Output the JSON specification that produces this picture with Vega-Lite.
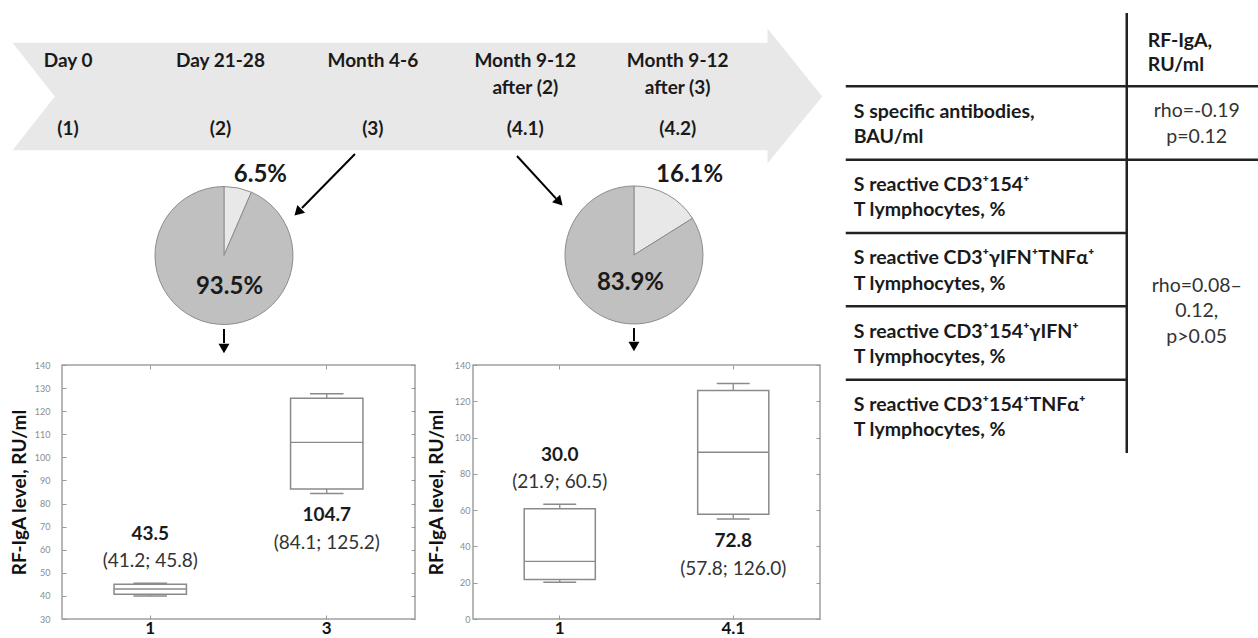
{
  "$schema": "https://vega.github.io/schema/vega-lite/v6.json",
  "autosize": {"type": "pad"},
  "padding": {"left": 9, "top": 11, "right": 0, "bottom": 0},
  "background": "white",
  "config": {
    "view": {"stroke": null},
    "font": "Lato",
    "text": {"font": "Lato"},
    "axis": {"labelFont": "Lato", "titleFont": "Lato", "grid": false}
  },
  "datasets": {
    "banner": [
      {"i": 0, "u": 0, "v": 0},
      {"i": 1, "u": 93.3, "v": 0},
      {"i": 2, "u": 93.3, "v": -13},
      {"i": 3, "u": 100, "v": 50},
      {"i": 4, "u": 93.3, "v": 112},
      {"i": 5, "u": 93.3, "v": 100},
      {"i": 6, "u": 0, "v": 100},
      {"i": 7, "u": 5.2, "v": 50},
      {"i": 8, "u": 0, "v": 0}
    ],
    "stages": [
      {"stage": "Day 0", "code": "(1)"},
      {"stage": "Day 21-28", "code": "(2)"},
      {"stage": "Month 4-6", "code": "(3)"},
      {"stage": "Month 9-12\nafter (2)", "code": "(4.1)"},
      {"stage": "Month 9-12\nafter (3)", "code": "(4.2)"}
    ],
    "pieA": [
      {"slice": "RF-IgA positive", "share": 6.5, "label": "6.5%"},
      {"slice": "RF-IgA negative", "share": 93.5, "label": "93.5%"}
    ],
    "pieB": [
      {"slice": "RF-IgA positive", "share": 16.1, "label": "16.1%"},
      {"slice": "RF-IgA negative", "share": 83.9, "label": "83.9%"}
    ],
    "arrows": [
      {"from": "(3)", "to": "pie A", "u0": 42.27, "v0": 103.7, "u1": 35.72, "v1": 154.2},
      {"from": "(4.1)", "to": "pie B", "u0": 62.3, "v0": 105.6, "u1": 67.14, "v1": 145.4},
      {"from": "pie A", "to": "box A", "u0": 26.08, "v0": 267.3, "u1": 26.08, "v1": 280.4},
      {"from": "pie B", "to": "box B", "u0": 76.76, "v0": 266.4, "u1": 76.76, "v1": 278.5}
    ],
    "heads": [
      {"to": "pie A", "u": 35.35, "v": 157.0, "angle": 225},
      {"to": "pie B", "u": 67.4, "v": 147.5, "angle": 137},
      {"to": "box A", "u": 26.08, "v": 284.1, "angle": 180},
      {"to": "box B", "u": 76.76, "v": 282.2, "angle": 180}
    ],
    "boxA": [
      {"timepoint": "1", "lo": 40.0, "q1": 40.7, "med": 43.0, "q3": 45.0, "hi": 45.5, "med_txt": "43.5", "iqr_txt": "(41.2; 45.8)"},
      {"timepoint": "3", "lo": 84.3, "q1": 86.3, "med": 106.5, "q3": 125.6, "hi": 127.6, "med_txt": "104.7", "iqr_txt": "(84.1; 125.2)"}
    ],
    "boxB": [
      {"timepoint": "1", "lo": 20.3, "q1": 21.8, "med": 31.8, "q3": 60.8, "hi": 63.3, "med_txt": "30.0", "iqr_txt": "(21.9; 60.5)"},
      {"timepoint": "4.1", "lo": 55.1, "q1": 57.8, "med": 91.9, "q3": 125.9, "hi": 129.8, "med_txt": "72.8", "iqr_txt": "(57.8; 126.0)"}
    ],
    "params": [
      {"row": "r1", "col": "p", "param": "S specific antibodies,\nBAU/ml"},
      {"row": "r2", "col": "p", "param": "S reactive  CD3⁺154⁺\nT lymphocytes, %"},
      {"row": "r3", "col": "p", "param": "S reactive CD3⁺γIFN⁺TNFα⁺\nT lymphocytes, %"},
      {"row": "r4", "col": "p", "param": "S reactive CD3⁺154⁺γIFN⁺\nT lymphocytes, %"},
      {"row": "r5", "col": "p", "param": "S reactive CD3⁺154⁺TNFα⁺\nT lymphocytes, %"}
    ],
    "header": [
      {"row": "h", "col": "RF-IgA", "head": "RF-IgA,\nRU/ml"}
    ],
    "corr": [
      {"first": "r1", "anchor": "r1", "col": "RF-IgA", "merged": false, "text": "rho=-0.19\np=0.12"},
      {"first": "r2", "anchor": "r4", "col": "RF-IgA", "merged": true, "text": "rho=0.08–\n0.12,\np>0.05"}
    ]
  },
  "spacing": 8.75,
  "hconcat": [
    {
      "spacing": 4,
      "vconcat": [
        {
          "width": 773,
          "height": 341,
          "resolve": {"scale": {"x": "independent"}},
          "layer": [
            {
              "data": {"name": "banner"},
              "mark": {"type": "line", "fill": "#e8e8e8", "stroke": "#e8e8e8", "strokeWidth": 0.5},
              "encoding": {
                "x": {"field": "u", "type": "quantitative", "scale": {"domain": [6.057, 101.61], "nice": false, "zero": false}, "axis": null},
                "y": {"field": "v", "type": "quantitative", "scale": {"domain": [-28.04, 290.65], "reverse": true, "nice": false, "zero": false}, "axis": null},
                "order": {"field": "i", "type": "quantitative"}
              }
            },
            {
              "data": {"name": "stages"},
              "mark": {"type": "text", "baseline": "top", "fontSize": 19, "fontWeight": "bold", "lineBreak": "\n", "lineHeight": 27, "color": "#1a1a1a"},
              "encoding": {
                "x": {"field": "code", "type": "nominal", "sort": null, "scale": {"type": "point", "padding": 0.536, "align": 0.037}, "axis": null},
                "y": {"datum": 8.7, "type": "quantitative", "scale": {"domain": [-28.04, 290.65], "reverse": true, "nice": false, "zero": false}, "axis": null},
                "text": {"field": "stage", "type": "nominal"}
              }
            },
            {
              "data": {"name": "stages"},
              "mark": {"type": "text", "baseline": "middle", "fontSize": 19, "fontWeight": "bold", "color": "#1a1a1a"},
              "encoding": {
                "x": {"field": "code", "type": "nominal", "sort": null, "scale": {"type": "point", "padding": 0.536, "align": 0.037}, "axis": null},
                "y": {"datum": 80, "type": "quantitative", "scale": {"domain": [-28.04, 290.65], "reverse": true, "nice": false, "zero": false}, "axis": null},
                "text": {"field": "code", "type": "nominal"}
              }
            },
            {
              "data": {"name": "pieA"},
              "mark": {"type": "arc", "outerRadius": 69, "stroke": "#8c8c8c", "strokeWidth": 1},
              "encoding": {
                "x": {"datum": 26.08, "type": "quantitative", "scale": {"domain": [6.057, 101.61], "nice": false, "zero": false}, "axis": null},
                "y": {"datum": 198.6, "type": "quantitative", "scale": {"domain": [-28.04, 290.65], "reverse": true, "nice": false, "zero": false}, "axis": null},
                "theta": {"field": "share", "type": "quantitative", "stack": true},
                "order": {"field": "share", "type": "quantitative"},
                "color": {"field": "slice", "type": "nominal", "scale": {"domain": ["RF-IgA positive", "RF-IgA negative"], "range": ["#e8e8e8", "#c0c0c0"]}, "legend": null}
              }
            },
            {
              "data": {"name": "pieA"},
              "mark": {"type": "text", "radius": 86, "dx": 19, "dy": 4, "fontSize": 24, "fontWeight": "bold", "color": "#1a1a1a"},
              "encoding": {
                "x": {"datum": 26.08, "type": "quantitative", "scale": {"domain": [6.057, 101.61], "nice": false, "zero": false}, "axis": null},
                "y": {"datum": 198.6, "type": "quantitative", "scale": {"domain": [-28.04, 290.65], "reverse": true, "nice": false, "zero": false}, "axis": null},
                "theta": {"field": "share", "type": "quantitative", "stack": true},
                "order": {"field": "share", "type": "quantitative"},
                "text": {"condition": {"test": "datum.share < 50", "field": "label", "type": "nominal"}, "value": ""}
              }
            },
            {
              "data": {"name": "pieA"},
              "mark": {"type": "text", "radius": 32, "dx": 12, "fontSize": 24, "fontWeight": "bold", "color": "#1a1a1a"},
              "encoding": {
                "x": {"datum": 26.08, "type": "quantitative", "scale": {"domain": [6.057, 101.61], "nice": false, "zero": false}, "axis": null},
                "y": {"datum": 198.6, "type": "quantitative", "scale": {"domain": [-28.04, 290.65], "reverse": true, "nice": false, "zero": false}, "axis": null},
                "theta": {"field": "share", "type": "quantitative", "stack": true},
                "order": {"field": "share", "type": "quantitative"},
                "text": {"condition": {"test": "datum.share >= 50", "field": "label", "type": "nominal"}, "value": ""}
              }
            },
            {
              "data": {"name": "pieB"},
              "mark": {"type": "arc", "outerRadius": 69, "stroke": "#8c8c8c", "strokeWidth": 1},
              "encoding": {
                "x": {"datum": 76.76, "type": "quantitative", "scale": {"domain": [6.057, 101.61], "nice": false, "zero": false}, "axis": null},
                "y": {"datum": 198.1, "type": "quantitative", "scale": {"domain": [-28.04, 290.65], "reverse": true, "nice": false, "zero": false}, "axis": null},
                "theta": {"field": "share", "type": "quantitative", "stack": true},
                "order": {"field": "share", "type": "quantitative"},
                "color": {"field": "slice", "type": "nominal", "scale": {"domain": ["RF-IgA positive", "RF-IgA negative"], "range": ["#e8e8e8", "#c0c0c0"]}, "legend": null}
              }
            },
            {
              "data": {"name": "pieB"},
              "mark": {"type": "text", "radius": 88, "dx": 13, "dy": -3, "fontSize": 24, "fontWeight": "bold", "color": "#1a1a1a"},
              "encoding": {
                "x": {"datum": 76.76, "type": "quantitative", "scale": {"domain": [6.057, 101.61], "nice": false, "zero": false}, "axis": null},
                "y": {"datum": 198.1, "type": "quantitative", "scale": {"domain": [-28.04, 290.65], "reverse": true, "nice": false, "zero": false}, "axis": null},
                "theta": {"field": "share", "type": "quantitative", "stack": true},
                "order": {"field": "share", "type": "quantitative"},
                "text": {"condition": {"test": "datum.share < 50", "field": "label", "type": "nominal"}, "value": ""}
              }
            },
            {
              "data": {"name": "pieB"},
              "mark": {"type": "text", "radius": 32, "dx": 12, "fontSize": 24, "fontWeight": "bold", "color": "#1a1a1a"},
              "encoding": {
                "x": {"datum": 76.76, "type": "quantitative", "scale": {"domain": [6.057, 101.61], "nice": false, "zero": false}, "axis": null},
                "y": {"datum": 198.1, "type": "quantitative", "scale": {"domain": [-28.04, 290.65], "reverse": true, "nice": false, "zero": false}, "axis": null},
                "theta": {"field": "share", "type": "quantitative", "stack": true},
                "order": {"field": "share", "type": "quantitative"},
                "text": {"condition": {"test": "datum.share >= 50", "field": "label", "type": "nominal"}, "value": ""}
              }
            },
            {
              "data": {"name": "arrows"},
              "mark": {"type": "rule", "color": "black", "strokeWidth": 2},
              "encoding": {
                "x": {"field": "u0", "type": "quantitative", "scale": {"domain": [6.057, 101.61], "nice": false, "zero": false}, "axis": null},
                "y": {"field": "v0", "type": "quantitative", "scale": {"domain": [-28.04, 290.65], "reverse": true, "nice": false, "zero": false}, "axis": null},
                "x2": {"field": "u1"},
                "y2": {"field": "v1"}
              }
            },
            {
              "data": {"name": "heads"},
              "mark": {"type": "point", "shape": "triangle", "filled": true, "color": "black", "opacity": 1, "size": 120},
              "encoding": {
                "x": {"field": "u", "type": "quantitative", "scale": {"domain": [6.057, 101.61], "nice": false, "zero": false}, "axis": null},
                "y": {"field": "v", "type": "quantitative", "scale": {"domain": [-28.04, 290.65], "reverse": true, "nice": false, "zero": false}, "axis": null},
                "angle": {"field": "angle", "type": "quantitative", "scale": null}
              }
            }
          ]
        },
        {
          "bounds": "flush",
          "spacing": 58,
          "hconcat": [
            {
              "width": 353,
              "height": 254,
              "data": {"name": "boxA"},
              "view": {"stroke": "#a0a0a0", "strokeWidth": 1.5},
              "resolve": {"axis": {"x": "independent", "y": "independent"}},
              "encoding": {
                "x": {"field": "timepoint", "type": "nominal", "sort": null, "scale": {"type": "band", "paddingInner": 0, "paddingOuter": 0}, "axis": null}
              },
              "layer": [
                {
                  "mark": {"type": "rule", "color": "#8a8a8a", "strokeWidth": 1.3},
                  "encoding": {
                    "x": {"field": "timepoint", "type": "nominal", "sort": null,
                      "axis": {"title": null, "labelAngle": 0, "domain": false, "tickSize": -4, "tickColor": "#999", "labelPadding": 5, "labelFontSize": 17, "labelFontWeight": "bold", "labelColor": "#111", "labelBaseline": "top"}},
                    "y": {"field": "lo", "type": "quantitative", "scale": {"domain": [30, 140], "nice": false, "zero": false},
                      "axis": {"title": "RF-IgA level, RU/ml", "values": [30, 40, 50, 60, 70, 80, 90, 100, 110, 120, 130, 140], "domain": false, "tickSize": -4, "tickColor": "#999", "labelPadding": 16, "labelFontSize": 9, "labelColor": "#8c8c8c", "titleFontSize": 19, "titleFontWeight": "bold", "titleColor": "#111", "titlePadding": 5}},
                    "y2": {"field": "hi"}
                  }
                },
                {
                  "mark": {"type": "rule", "opacity": 0},
                  "encoding": {
                    "x": {"field": "timepoint", "type": "nominal", "sort": null,
                      "axis": {"orient": "top", "title": null, "labels": false, "domain": false, "tickSize": -4, "tickColor": "#999"}},
                    "y": {"field": "lo", "type": "quantitative",
                      "axis": {"orient": "right", "title": null, "labels": false, "values": [30, 40, 50, 60, 70, 80, 90, 100, 110, 120, 130, 140], "domain": false, "tickSize": -4, "tickColor": "#999"}},
                    "y2": {"field": "hi"}
                  }
                },
                {
                  "mark": {"type": "bar", "fill": "white", "stroke": "#8a8a8a", "strokeWidth": 1.5, "width": {"band": 0.41}},
                  "encoding": {"y": {"field": "q1", "type": "quantitative", "axis": null}, "y2": {"field": "q3"}}
                },
                {
                  "mark": {"type": "bar", "fill": "white", "stroke": "#8a8a8a", "strokeWidth": 1.3, "width": {"band": 0.41}},
                  "encoding": {"y": {"field": "med", "type": "quantitative", "axis": null}, "y2": {"field": "med"}}
                },
                {
                  "mark": {"type": "bar", "fill": "white", "stroke": "#8a8a8a", "strokeWidth": 1.5, "width": {"band": 0.19}},
                  "encoding": {"y": {"field": "hi", "type": "quantitative", "axis": null}, "y2": {"field": "hi"}}
                },
                {
                  "mark": {"type": "bar", "fill": "white", "stroke": "#8a8a8a", "strokeWidth": 1.5, "width": {"band": 0.19}},
                  "encoding": {"y": {"field": "lo", "type": "quantitative", "axis": null}, "y2": {"field": "lo"}}
                },
                {
                  "transform": [{"filter": "datum.timepoint == '1'"}],
                  "mark": {"type": "text", "dy": -49.5, "fontSize": 19, "fontWeight": "bold", "color": "#1a1a1a"},
                  "encoding": {"y": {"field": "hi", "type": "quantitative", "axis": null}, "text": {"field": "med_txt", "type": "nominal"}}
                },
                {
                  "transform": [{"filter": "datum.timepoint == '1'"}],
                  "mark": {"type": "text", "dy": -22.5, "fontSize": 19, "color": "#333"},
                  "encoding": {"y": {"field": "hi", "type": "quantitative", "axis": null}, "text": {"field": "iqr_txt", "type": "nominal"}}
                },
                {
                  "transform": [{"filter": "datum.timepoint != '1'"}],
                  "mark": {"type": "text", "dy": 21.5, "fontSize": 19, "fontWeight": "bold", "color": "#1a1a1a"},
                  "encoding": {"y": {"field": "lo", "type": "quantitative", "axis": null}, "text": {"field": "med_txt", "type": "nominal"}}
                },
                {
                  "transform": [{"filter": "datum.timepoint != '1'"}],
                  "mark": {"type": "text", "dy": 49.5, "fontSize": 19, "color": "#333"},
                  "encoding": {"y": {"field": "lo", "type": "quantitative", "axis": null}, "text": {"field": "iqr_txt", "type": "nominal"}}
                }
              ]
            },
            {
              "width": 347,
              "height": 254,
              "data": {"name": "boxB"},
              "view": {"stroke": "#a0a0a0", "strokeWidth": 1.5},
              "resolve": {"axis": {"x": "independent", "y": "independent"}},
              "encoding": {
                "x": {"field": "timepoint", "type": "nominal", "sort": null, "scale": {"type": "band", "paddingInner": 0, "paddingOuter": 0}, "axis": null}
              },
              "layer": [
                {
                  "mark": {"type": "rule", "color": "#8a8a8a", "strokeWidth": 1.3},
                  "encoding": {
                    "x": {"field": "timepoint", "type": "nominal", "sort": null,
                      "axis": {"title": null, "labelAngle": 0, "domain": false, "tickSize": -4, "tickColor": "#999", "labelPadding": 5, "labelFontSize": 17, "labelFontWeight": "bold", "labelColor": "#111", "labelBaseline": "top"}},
                    "y": {"field": "lo", "type": "quantitative", "scale": {"domain": [0, 140], "nice": false, "zero": false},
                      "axis": {"title": "RF-IgA level, RU/ml", "values": [0, 20, 40, 60, 80, 100, 120, 140], "domain": false, "tickSize": -4, "tickColor": "#999", "labelPadding": 7, "labelFontSize": 9, "labelColor": "#8c8c8c", "titleFontSize": 19, "titleFontWeight": "bold", "titleColor": "#111", "titlePadding": 8}},
                    "y2": {"field": "hi"}
                  }
                },
                {
                  "mark": {"type": "rule", "opacity": 0},
                  "encoding": {
                    "x": {"field": "timepoint", "type": "nominal", "sort": null,
                      "axis": {"orient": "top", "title": null, "labels": false, "domain": false, "tickSize": -4, "tickColor": "#999"}},
                    "y": {"field": "lo", "type": "quantitative",
                      "axis": {"orient": "right", "title": null, "labels": false, "values": [0, 20, 40, 60, 80, 100, 120, 140], "domain": false, "tickSize": -4, "tickColor": "#999"}},
                    "y2": {"field": "hi"}
                  }
                },
                {
                  "mark": {"type": "bar", "fill": "white", "stroke": "#8a8a8a", "strokeWidth": 1.5, "width": {"band": 0.41}},
                  "encoding": {"y": {"field": "q1", "type": "quantitative", "axis": null}, "y2": {"field": "q3"}}
                },
                {
                  "mark": {"type": "bar", "fill": "white", "stroke": "#8a8a8a", "strokeWidth": 1.3, "width": {"band": 0.41}},
                  "encoding": {"y": {"field": "med", "type": "quantitative", "axis": null}, "y2": {"field": "med"}}
                },
                {
                  "mark": {"type": "bar", "fill": "white", "stroke": "#8a8a8a", "strokeWidth": 1.5, "width": {"band": 0.19}},
                  "encoding": {"y": {"field": "hi", "type": "quantitative", "axis": null}, "y2": {"field": "hi"}}
                },
                {
                  "mark": {"type": "bar", "fill": "white", "stroke": "#8a8a8a", "strokeWidth": 1.5, "width": {"band": 0.19}},
                  "encoding": {"y": {"field": "lo", "type": "quantitative", "axis": null}, "y2": {"field": "lo"}}
                },
                {
                  "transform": [{"filter": "datum.timepoint == '1'"}],
                  "mark": {"type": "text", "dy": -49.5, "fontSize": 19, "fontWeight": "bold", "color": "#1a1a1a"},
                  "encoding": {"y": {"field": "hi", "type": "quantitative", "axis": null}, "text": {"field": "med_txt", "type": "nominal"}}
                },
                {
                  "transform": [{"filter": "datum.timepoint == '1'"}],
                  "mark": {"type": "text", "dy": -22.5, "fontSize": 19, "color": "#333"},
                  "encoding": {"y": {"field": "hi", "type": "quantitative", "axis": null}, "text": {"field": "iqr_txt", "type": "nominal"}}
                },
                {
                  "transform": [{"filter": "datum.timepoint != '1'"}],
                  "mark": {"type": "text", "dy": 21.5, "fontSize": 19, "fontWeight": "bold", "color": "#1a1a1a"},
                  "encoding": {"y": {"field": "lo", "type": "quantitative", "axis": null}, "text": {"field": "med_txt", "type": "nominal"}}
                },
                {
                  "transform": [{"filter": "datum.timepoint != '1'"}],
                  "mark": {"type": "text", "dy": 49.5, "fontSize": 19, "color": "#333"},
                  "encoding": {"y": {"field": "lo", "type": "quantitative", "axis": null}, "text": {"field": "iqr_txt", "type": "nominal"}}
                }
              ]
            }
          ]
        }
      ]
    },
    {
      "bounds": "flush",
      "spacing": 0,
      "hconcat": [
        {
          "width": 281,
          "height": 440,
          "data": {"name": "params"},
          "layer": [
            {
              "mark": {"type": "rule", "color": "#222", "strokeWidth": 2.5},
              "encoding": {
                "y": {"field": "row", "type": "nominal", "bandPosition": 0, "scale": {"type": "band", "domain": ["h", "r1", "r2", "r3", "r4", "r5"], "paddingInner": 0, "paddingOuter": 0}, "axis": null}
              }
            },
            {
              "mark": {"type": "text", "align": "left", "baseline": "middle", "dx": 8, "dy": -11.5, "fontSize": 19.5, "fontWeight": "bold", "lineBreak": "\n", "lineHeight": 25.5, "color": "#1a1a1a"},
              "encoding": {
                "x": {"field": "col", "type": "nominal", "bandPosition": 0, "scale": {"type": "band", "paddingInner": 0, "paddingOuter": 0}, "axis": null},
                "y": {"field": "row", "type": "nominal", "scale": {"type": "band", "domain": ["h", "r1", "r2", "r3", "r4", "r5"], "paddingInner": 0, "paddingOuter": 0}, "axis": null},
                "text": {"field": "param", "type": "nominal"}
              }
            }
          ]
        },
        {
          "width": 132,
          "height": 440,
          "layer": [
            {
              "data": {"name": "header"},
              "mark": {"type": "rule", "color": "#222", "strokeWidth": 2.5},
              "encoding": {
                "x": {"field": "col", "type": "nominal", "bandPosition": 0, "scale": {"type": "band", "domain": ["RF-IgA"], "paddingInner": 0, "paddingOuter": 0}, "axis": null}
              }
            },
            {
              "data": {"name": "corr"},
              "mark": {"type": "rule", "color": "#222", "strokeWidth": 2.5},
              "encoding": {
                "y": {"field": "first", "type": "nominal", "bandPosition": 0, "scale": {"type": "band", "domain": ["h", "r1", "r2", "r3", "r4", "r5"], "paddingInner": 0, "paddingOuter": 0}, "axis": null}
              }
            },
            {
              "data": {"name": "header"},
              "mark": {"type": "text", "align": "left", "baseline": "middle", "dx": 21, "dy": -9, "fontSize": 19.5, "fontWeight": "bold", "lineBreak": "\n", "lineHeight": 24, "color": "#1a1a1a"},
              "encoding": {
                "x": {"field": "col", "type": "nominal", "bandPosition": 0, "scale": {"type": "band", "domain": ["RF-IgA"], "paddingInner": 0, "paddingOuter": 0}, "axis": null},
                "y": {"field": "row", "type": "nominal", "scale": {"type": "band", "domain": ["h", "r1", "r2", "r3", "r4", "r5"], "paddingInner": 0, "paddingOuter": 0}, "axis": null},
                "text": {"field": "head", "type": "nominal"}
              }
            },
            {
              "data": {"name": "corr"},
              "transform": [{"filter": "!datum.merged"}],
              "mark": {"type": "text", "align": "center", "baseline": "middle", "dx": 4, "dy": -12, "fontSize": 19.5, "lineBreak": "\n", "lineHeight": 25.5, "color": "#333"},
              "encoding": {
                "x": {"field": "col", "type": "nominal", "scale": {"type": "band", "domain": ["RF-IgA"], "paddingInner": 0, "paddingOuter": 0}, "axis": null},
                "y": {"field": "anchor", "type": "nominal", "scale": {"type": "band", "domain": ["h", "r1", "r2", "r3", "r4", "r5"], "paddingInner": 0, "paddingOuter": 0}, "axis": null},
                "text": {"field": "text", "type": "nominal"}
              }
            },
            {
              "data": {"name": "corr"},
              "transform": [{"filter": "datum.merged"}],
              "mark": {"type": "text", "align": "center", "baseline": "middle", "dx": 4, "dy": -20.5, "fontSize": 19.5, "lineBreak": "\n", "lineHeight": 25.5, "color": "#333"},
              "encoding": {
                "x": {"field": "col", "type": "nominal", "scale": {"type": "band", "domain": ["RF-IgA"], "paddingInner": 0, "paddingOuter": 0}, "axis": null},
                "y": {"field": "anchor", "type": "nominal", "bandPosition": 0, "scale": {"type": "band", "domain": ["h", "r1", "r2", "r3", "r4", "r5"], "paddingInner": 0, "paddingOuter": 0}, "axis": null},
                "text": {"field": "text", "type": "nominal"}
              }
            }
          ]
        }
      ]
    }
  ]
}
